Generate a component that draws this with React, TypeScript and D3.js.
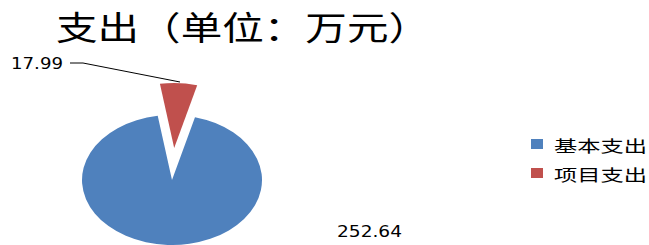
import React from "react";
import * as d3 from "d3";

const categories = ["基本支出", "项目支出"];
const values = [252.64, 17.99];
const valueLabels = ["252.64", "17.99"];
const colors = ["#4F81BD", "#C0504D"];
const title = "支出（单位：万元）";

export default function App() {
  const W = 649, H = 245;
  const cx = 172, cy = 180, r = 65, sx = 90 / 65;
  const start = (14.8 * Math.PI) / 180;
  const pie = d3.pie<number>().sort(null).startAngle(start).endAngle(start + 2 * Math.PI);
  const arcs = pie(values);
  const arc = d3.arc<d3.PieArcDatum<number>>().innerRadius(0).outerRadius(r);
  const explode = [0, 32];
  return (
    <svg width={W} height={H} style={{ position: "absolute", left: 0, top: 0, background: "#fff" }}>
      <rect width={W} height={H} fill="#fff" />
      <text x={56} y={40} fontSize={33} fontFamily="'Noto Sans CJK SC'" textLength={374} lengthAdjust="spacingAndGlyphs" fill="#000">
        {title}
      </text>
      <g transform={`translate(${cx},${cy}) scale(${sx},1)`}>
        {arcs.map((a, i) => {
          const mid = (a.startAngle + a.endAngle) / 2;
          const dx = Math.sin(mid) * explode[i];
          const dy = -Math.cos(mid) * explode[i];
          return <path key={i} d={arc(a) || ""} fill={colors[i]} transform={`translate(${dx},${dy})`} />;
        })}
      </g>
      <polyline points="70,63 83,63 180,82" fill="none" stroke="#000" strokeWidth={1} />
      <text x={11} y={69} fontSize={15} fontFamily="'DejaVu Sans'" textLength={52} lengthAdjust="spacingAndGlyphs" fill="#000">
        {valueLabels[1]}
      </text>
      <text x={337} y={237} fontSize={15} fontFamily="'DejaVu Sans'" textLength={65} lengthAdjust="spacingAndGlyphs" fill="#000">
        {valueLabels[0]}
      </text>
      {categories.map((c, i) => (
        <g key={c}>
          <rect x={531} y={139 + i * 29} width={12} height={10} fill={colors[i]} />
          <text x={554} y={152 + i * 29} fontSize={16} fontFamily="'Noto Sans CJK SC'" textLength={93} lengthAdjust="spacingAndGlyphs" fill="#000">
            {c}
          </text>
        </g>
      ))}
    </svg>
  );
}
